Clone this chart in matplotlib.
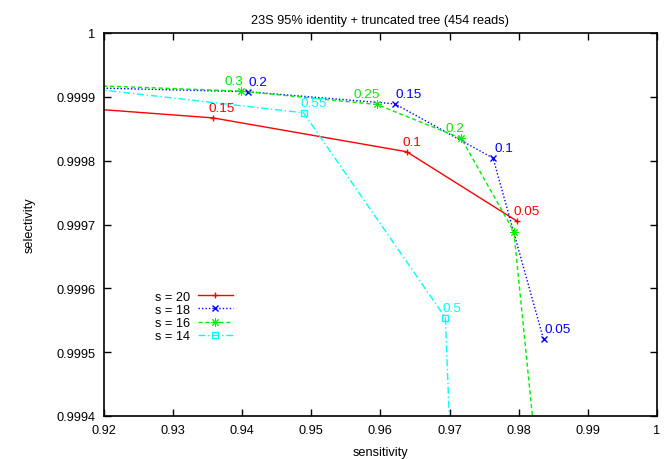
import numpy as np
import matplotlib
matplotlib.use('Agg')
import matplotlib.pyplot as plt

plt.rcParams['font.family'] = ['Liberation Sans', 'DejaVu Sans']

# sensitivity / selectivity per seed size, labels are the thresholds
s20_sens = [0.900, 0.9358, 0.9638, 0.9798]
s20_sel = [0.999896, 0.999867, 0.999814, 0.999705]
s20_lab = ['0.2', '0.15', '0.1', '0.05']

s18_sens = [0.900, 0.9408, 0.9621, 0.9763, 0.9836]
s18_sel = [0.999919, 0.999908, 0.999889, 0.999804, 0.999520]
s18_lab = ['0.25', '0.2', '0.15', '0.1', '0.05']

s16_sens = [0.900, 0.9398, 0.9595, 0.9717, 0.9793, 0.9857]
s16_sel = [0.999925, 0.999909, 0.999888, 0.999835, 0.999689, 0.9990]
s16_lab = ['0.35', '0.3', '0.25', '0.2', '', '']

s14_sens = [0.900, 0.9489, 0.9694, 0.9714]
s14_sel = [0.999935, 0.999875, 0.999554, 0.9990]
s14_lab = ['0.6', '0.55', '0.5', '0.45']

xticks = [0.92, 0.93, 0.94, 0.95, 0.96, 0.97, 0.98, 0.99, 1.0]
xticklabels = ['0.92', '0.93', '0.94', '0.95', '0.96', '0.97', '0.98', '0.99', '1']
yticks = [0.9994, 0.9995, 0.9996, 0.9997, 0.9998, 0.9999, 1.0]
yticklabels = ['0.9994', '0.9995', '0.9996', '0.9997', '0.9998', '0.9999', '1']

fs = 9.2
fig = plt.figure(figsize=(6.68, 4.60), dpi=100)
ax = fig.add_axes([103.7/668, 1-417/460, (657-103.7)/668, (417-34)/460])

series = [
    ('s = 20', s20_sens, s20_sel, s20_lab, '#ff0000', '-', '+', 5, 1.0, 'left', -4),
    ('s = 18', s18_sens, s18_sel, s18_lab, '#0000ff', (0, (1, 1.5)), 'x', 4, 1.0, 'left', 1),
    ('s = 16', s16_sens, s16_sel, s16_lab, '#00ee00', (0, (3, 2)), (8, 2, 0), 6, 0.7, 'right', 3),
    ('s = 14', s14_sens, s14_sel, s14_lab, '#00ffff', (0, (5, 2, 1, 2)), 's', 4, 1.0, 'left', -3),
]

for name, xs, ys, labs, col, ls, mk, ms, mew, ha, dx in series:
    ax.plot(xs, ys, color=col, linestyle=ls, linewidth=1.0, marker=mk,
            markersize=ms, markerfacecolor='none', markeredgecolor=col,
            markeredgewidth=mew, label=name)
    for x, y, t in zip(xs, ys, labs):
        if t and 0.92 <= x <= 1 and 0.9994 <= y <= 1:
            ax.annotate(t, (x, y), xytext=(dx, 7), textcoords='offset pixels',
                        ha=ha, va='baseline', color=col, fontsize=fs + 0.5)

ax.set_xlim(0.92, 1.0)
ax.set_ylim(0.9994, 1.0)
ax.set_xticks(xticks)
ax.set_xticklabels(xticklabels)
ax.set_yticks(yticks)
ax.set_yticklabels(yticklabels)
ax.tick_params(direction='in', length=5, width=1, top=True, right=True,
               labelsize=fs, pad=6)
for sp in ax.spines.values():
    sp.set_linewidth(1.2)

ax.set_xlabel('sensitivity', fontsize=fs, labelpad=7)
ax.set_ylabel('selectivity', fontsize=fs, labelpad=15)
ax.set_title('23S 95% identity + truncated tree (454 reads)', fontsize=fs, pad=7)

ax.legend(loc='center', bbox_to_anchor=(194/668, 1-317.5/460),
          bbox_transform=fig.transFigure, frameon=False, fontsize=fs,
          markerfirst=False, handlelength=2.8, handletextpad=0.6,
          labelspacing=0.1, borderpad=0)

fig.savefig('out.png', dpi=100)
